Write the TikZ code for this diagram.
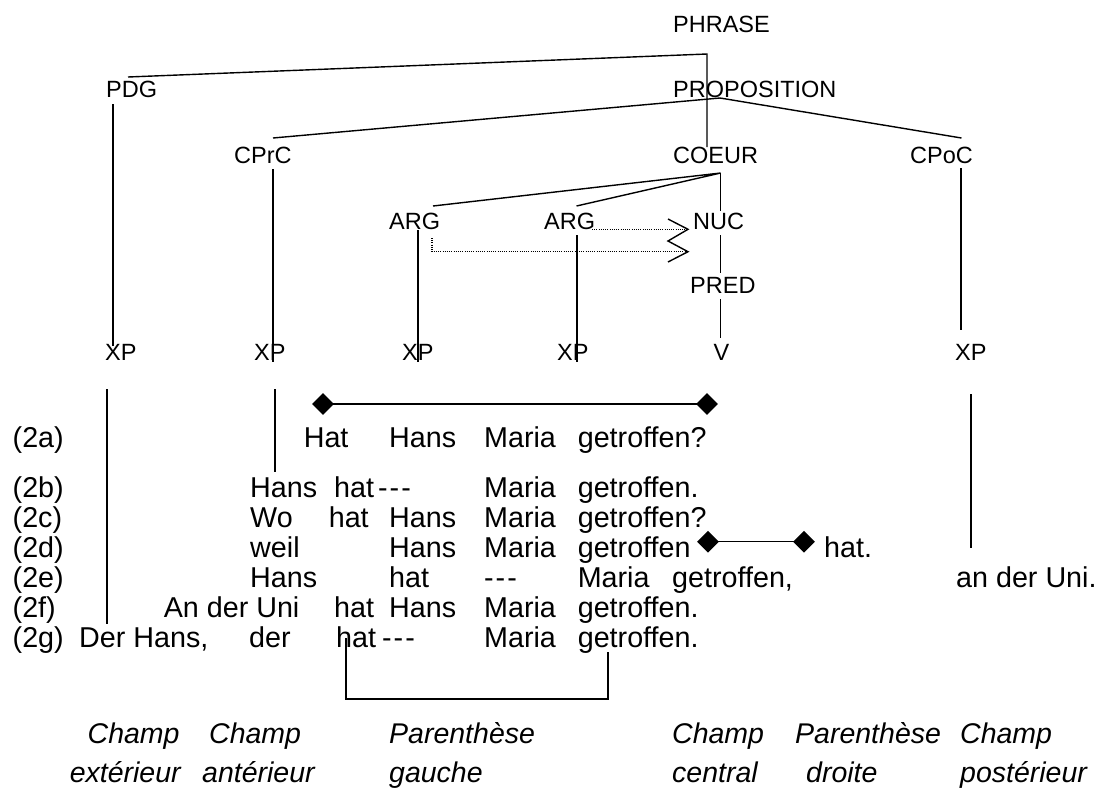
\documentclass[tikz,border=0pt]{standalone}
\usepackage{fontspec}
\setmainfont{Liberation Sans}
\usetikzlibrary{shapes.geometric}
\newcommand{\tdash}{\mbox{-}\kern2pt\mbox{-}\kern2pt\mbox{-}}
\begin{document}
\begin{tikzpicture}[x=1pt,y=-1pt,
  lab/.style={inner sep=0pt,anchor=base west,font=\fontsize{23.5}{28}\selectfont},
  wd/.style={inner sep=0pt,anchor=base west,font=\fontsize{28.7}{32}\selectfont},
  itl/.style={inner sep=0pt,anchor=base west,font=\fontsize{28.5}{32}\selectfont\itshape},
  tl/.style={line width=1.4pt},
  ll/.style={line width=1.2pt},
  dotl/.style={line width=1.1pt,dash pattern=on 1pt off 1.2pt},
  dia/.style={diamond,fill=black,inner sep=0pt,minimum size=22pt}]
\useasboundingbox (0,0) rectangle (1101,801);
% tree labels
\node[lab] (phrase) at (673,32.5) {PHRASE};
\node[lab] (pdg) at (106,97.5) {PDG};
\node[lab] (prop) at (673,97.5) {PROPOSITION};
\node[lab] (cprc) at (234,163.5) {CPrC};
\node[lab] (coeur) at (673,163.5) {COEUR};
\node[lab] (cpoc) at (910,163.5) {CPoC};
\node[lab] (arg1) at (389,229.5) {ARG};
\node[lab] (arg2) at (544,229.5) {ARG};
\node[lab] (nuc) at (693,229.5) {NUC};
\node[lab] (pred) at (690,293.5) {PRED};
\node[lab] (xp1) at (105,360.5) {XP};
\node[lab] (xp2) at (254,360.5) {XP};
\node[lab] (xp3) at (402,360.5) {XP};
\node[lab] (xp4) at (557,360.5) {XP};
\node[lab] (v) at (713.5,360.5) {V};
\node[lab] (xp6) at (955,360.5) {XP};
% tree coordinates
\coordinate (pA) at (128,77);
\coordinate (pB) at (707,54);
\coordinate (pC) at (707,147);
\coordinate (prB) at (720,98);
\coordinate (cprcT) at (273,138);
\coordinate (cpocT) at (961.5,138);
\coordinate (coB) at (720.7,173);
\coordinate (a1T) at (433,206);
\coordinate (a2T) at (576.5,206);
\coordinate (nucT) at (720.7,211);
\coordinate (pdgB) at (113,104);
\coordinate (xp1T) at (113,346);
\coordinate (cprcB) at (273,169);
\coordinate (xp2T) at (273,362);
\coordinate (cpocB) at (961,168);
\coordinate (xp6T) at (961,330);
\coordinate (a1B) at (418,230);
\coordinate (xp3T) at (418,362);
\coordinate (a2B) at (577,235);
\coordinate (xp4T) at (577,362);
\coordinate (nucB) at (720.7,235);
\coordinate (predT) at (720.7,273);
\coordinate (predB) at (720.7,299);
\coordinate (vT) at (720.7,338);
% tree connectors
\draw[tl] (pA) -- (pB) -- (pC);
\draw[tl] (cprcT) -- (prB) -- (cpocT);
\draw[tl] (a1T) -- (coB) -- (a2T);
\draw[tl] (coB) -- (nucT);
\draw[tl] (pdgB) -- (xp1T);
\draw[tl] (cprcB) -- (xp2T);
\draw[tl] (cpocB) -- (xp6T);
\draw[tl] (a1B) -- (xp3T);
\draw[tl] (a2B) -- (xp4T);
\draw[tl] (nucB) -- (predT);
\draw[tl] (predB) -- (vT);
% dotted arrows
\coordinate (d1s) at (592,229.3);
\coordinate (d1e) at (688,229.3);
\coordinate (d2s) at (432,238);
\coordinate (d2c) at (432,251.7);
\coordinate (d2e) at (688,251.7);
\draw[dotl] (d1s) -- (d1e);
\draw[dotl] (d2s) -- (d2c) -- (d2e);
\coordinate (z1) at (668,219);
\coordinate (z3) at (668,241);
\coordinate (z5) at (668,262);
\draw[tl,line join=miter] (z1) -- (d1e) -- (z3) -- (d2e) -- (z5);
% lower lines
\coordinate (l1a) at (107,389);
\coordinate (l1b) at (107,624);
\coordinate (l2a) at (275,389);
\coordinate (l2b) at (275,472);
\coordinate (l6a) at (971,394);
\coordinate (l6b) at (971,548);
\draw[ll] (l1a) -- (l1b);
\draw[ll] (l2a) -- (l2b);
\draw[ll] (l6a) -- (l6b);
\node[dia] (da1) at (323,404) {};
\node[dia] (da2) at (707,404) {};
\draw[ll] (da1.center) -- (da2.center);
\node[dia] (dd1) at (708,541.7) {};
\node[dia] (dd2) at (804,541.7) {};
\draw[ll] (dd1.center) -- (dd2.center);
\coordinate (b1) at (346,638);
\coordinate (b2) at (346,699);
\coordinate (b3) at (608,699);
\coordinate (b4) at (608,652);
\draw[ll] (b1) -- (b2) -- (b3) -- (b4);
% sentences
\node[wd] (la) at (12.5,447) {(2a)};
\node[wd] (a1) at (303.6,447) {Hat};
\node[wd] (a2) at (389,447) {Hans};
\node[wd] (a3) at (484,447) {Maria};
\node[wd] (a4) at (577.6,447) {getroffen?};
\node[wd] (lb) at (12.5,497) {(2b)};
\node[wd] (b1w) at (250,497) {Hans};
\node[wd] (b2w) at (334,497) {hat};
\node[wd] (b3w) at (378,497) {\tdash};
\node[wd] (b4w) at (484,497) {Maria};
\node[wd] (b5w) at (577.6,497) {getroffen.};
\node[wd] (lc) at (12.5,527) {(2c)};
\node[wd] (c1) at (250,527) {Wo};
\node[wd] (c2) at (328.6,527) {hat};
\node[wd] (c3) at (389,527) {Hans};
\node[wd] (c4) at (484,527) {Maria};
\node[wd] (c5) at (577.6,527) {getroffen?};
\node[wd] (ld) at (12.5,557) {(2d)};
\node[wd] (d1) at (250,557) {weil};
\node[wd] (d2) at (389,557) {Hans};
\node[wd] (d3) at (484,557) {Maria};
\node[wd] (d4) at (577.6,557) {getroffen};
\node[wd] (d5) at (824,557) {hat.};
\node[wd] (le) at (12.5,587) {(2e)};
\node[wd] (e1) at (250,587) {Hans};
\node[wd] (e2) at (389,587) {hat};
\node[wd] (e3) at (484,587) {\tdash};
\node[wd] (e4) at (577.6,587) {Maria};
\node[wd] (e5) at (672,587) {getroffen,};
\node[wd] (e6) at (956,587) {an der Uni.};
\node[wd] (lf) at (12.5,617) {(2f)};
\node[wd] (f1) at (163.6,617) {An der Uni};
\node[wd] (f2) at (334,617) {hat};
\node[wd] (f3) at (389,617) {Hans};
\node[wd] (f4) at (484,617) {Maria};
\node[wd] (f5) at (577.6,617) {getroffen.};
\node[wd] (lg) at (12.5,647) {(2g)};
\node[wd] (g1) at (79,647) {Der Hans,};
\node[wd] (g2) at (249,647) {der};
\node[wd] (g3) at (336,647) {hat};
\node[wd] (g4) at (382,647) {\tdash};
\node[wd] (g5) at (484,647) {Maria};
\node[wd] (g6) at (577.6,647) {getroffen.};
% field labels
\node[itl] (f1a) at (87.5,743) {Champ};
\node[itl] (f1b) at (69.6,782) {extérieur};
\node[itl] (f2a) at (209,743) {Champ};
\node[itl] (f2b) at (202,782) {antérieur};
\node[itl] (f3a) at (389,743) {Parenthèse};
\node[itl] (f3b) at (389,782) {gauche};
\node[itl] (f4a) at (672,743) {Champ};
\node[itl] (f4b) at (672,782) {central};
\node[itl] (f5a) at (795,743) {Parenthèse};
\node[itl] (f5b) at (806,782) {droite};
\node[itl] (f6a) at (960,743) {Champ};
\node[itl] (f6b) at (960,782) {postérieur};
\end{tikzpicture}
\end{document}
